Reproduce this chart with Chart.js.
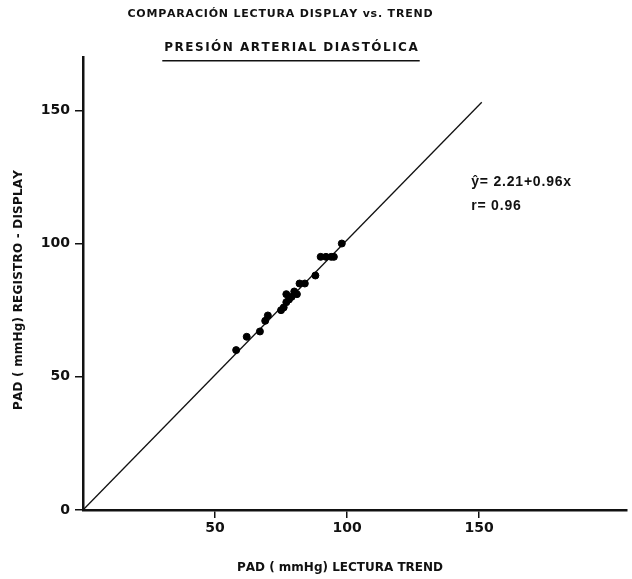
<!DOCTYPE html>
<html>
<head>
<meta charset="utf-8">
<script src="https://cdn.jsdelivr.net/npm/chart.js@4/dist/chart.umd.min.js"></script>
<style>
  body { margin: 0; background: #fff; }
  #wrap { width: 632px; height: 579px; }
</style>
</head>
<body>
<div id="wrap"><canvas id="chart"></canvas></div>
<script>
// readings (x = Trend, y = Display)
const trendX = [58, 62, 67, 69, 70, 75, 76, 77, 78, 77, 79, 80, 81, 82, 84, 88, 90, 92, 94, 95, 98];
const displayY = [60, 65, 67, 71, 73, 75, 76, 78, 79, 81, 80, 82, 81, 85, 85, 88, 95, 95, 95, 95, 100];

// regression line end points as drawn
const lineX = [0, 151];
const lineY = [0, 153];

const xTicks = [50, 100, 150];
const yTicks = [0, 50, 100, 150];

const title = "COMPARACIÓN LECTURA DISPLAY vs. TREND";
const subtitle = "PRESIÓN ARTERIAL DIASTÓLICA";
const xTitle = "PAD ( mmHg) LECTURA TREND";
const yTitle = "PAD ( mmHg) REGISTRO - DISPLAY";
const eqText = "ŷ= 2.21+0.96x";
const rText = "r= 0.96";

const FONT = "'DejaVu Sans', sans-serif";
const EQFONT = "'Liberation Sans', Arial, sans-serif";

// draws text at (px, cy) with extra spacing between letters; centred unless left = true
function spaced(ctx, txt, px, cy, gap, left) {
  let w = 0;
  for (const ch of txt) w += ctx.measureText(ch).width + gap;
  w -= gap;
  if (!left) px -= w / 2;
  ctx.textAlign = "left";
  for (const ch of txt) {
    ctx.fillText(ch, px, cy);
    px += ctx.measureText(ch).width + gap;
  }
  return w;
}

const textPlugin = {
  id: "texts",
  afterDraw(chart) {
    const ctx = chart.ctx;
    const { x, y } = chart.scales;
    ctx.save();
    ctx.fillStyle = "#111";
    ctx.textBaseline = "middle";

    ctx.font = "bold 11px " + FONT;
    spaced(ctx, title, 280, 14, 0.8);

    ctx.font = "bold 12px " + FONT;
    const w = spaced(ctx, subtitle, 291, 48, 1.5);
    ctx.fillRect(291 - w / 2 - 2, 60, w + 4, 1.5);

    ctx.font = "bold 12px " + FONT;
    spaced(ctx, xTitle, 340, 568, 0);

    ctx.save();
    ctx.translate(19, 290);
    ctx.rotate(-Math.PI / 2);
    spaced(ctx, yTitle, 0, 0, 0.2);
    ctx.restore();

    // equation, placed in data units
    ctx.font = "bold 14px " + EQFONT;
    spaced(ctx, eqText, x.getPixelForValue(147), y.getPixelForValue(123), 0.8, true);
    spaced(ctx, rText, x.getPixelForValue(147), y.getPixelForValue(114), 0.8, true);
    ctx.restore();
  }
};

new Chart(document.getElementById("chart"), {
  type: "scatter",
  data: {
    datasets: [
      {
        label: "lecturas",
        data: trendX.map((v, i) => ({ x: v, y: displayY[i] })),
        backgroundColor: "#000",
        borderColor: "#000",
        pointRadius: 3.5,
      },
      {
        label: "regresion",
        type: "line",
        data: lineX.map((v, i) => ({ x: v, y: lineY[i] })),
        borderColor: "#111",
        borderWidth: 1.3,
        pointRadius: 0,
        fill: false,
      }
    ],
  },
  options: {
    responsive: true,
    maintainAspectRatio: false,
    animation: false,
    layout: { padding: { top: 57, right: 4, left: 0, bottom: 0 } },
    plugins: {
      legend: { display: false },
      tooltip: { enabled: false },
    },
    scales: {
      x: {
        type: "linear",
        min: 0,
        max: 206,
        afterBuildTicks: (s) => { s.ticks = xTicks.map(v => ({ value: v })); },
        afterFit: (s) => { s.height = 69; },
        border: { color: "#111", width: 2.5 },
        grid: { drawOnChartArea: false, color: "#111", lineWidth: 1.5, tickLength: 8 },
        ticks: { color: "#111", font: { family: FONT, size: 14, weight: "bold" }, padding: 2 },
      },
      y: {
        type: "linear",
        min: 0,
        max: 170,
        afterBuildTicks: (s) => { s.ticks = yTicks.map(v => ({ value: v })); },
        afterFit: (s) => { s.width = 83; },
        border: { color: "#111", width: 2.5 },
        grid: { drawOnChartArea: false, color: "#111", lineWidth: 1.5, tickLength: 8 },
        ticks: { color: "#111", font: { family: FONT, size: 14, weight: "bold" }, padding: 5 },
      }
    },
  },
  plugins: [textPlugin],
});
</script>
</body>
</html>
